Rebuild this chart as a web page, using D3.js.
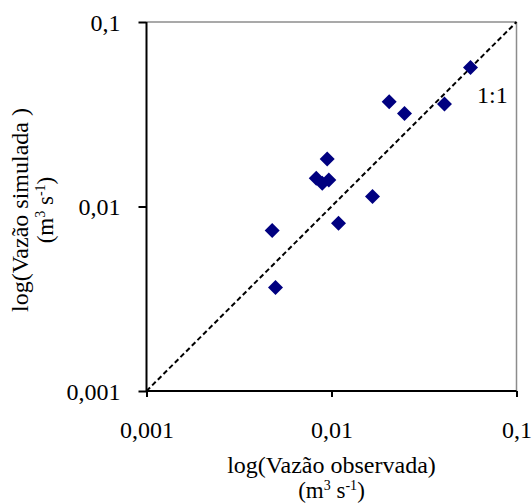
<!DOCTYPE html>
<html>
<head>
<meta charset="utf-8">
<script src="https://cdn.jsdelivr.net/npm/d3@7"></script>
<style>
  html, body { margin: 0; padding: 0; background: #fff; }
  svg { display: block; }
</style>
</head>
<body>
<svg id="chart" width="532" height="504"></svg>
<script>
// ---- data ----
const observed  = [0.0564, 0.0408, 0.0205, 0.0248, 0.00948, 0.00827, 0.00891, 0.00967, 0.01666, 0.01091, 0.00478, 0.00498];
const simulated = [0.0566, 0.0359, 0.0370, 0.0319, 0.0181, 0.01422, 0.01336, 0.01394, 0.01133, 0.00812, 0.00742, 0.00364];
const tickValues = [0.001, 0.01, 0.1];
const tickLabels = ["0,001", "0,01", "0,1"];
const lineOneToOne = [0.001, 0.1];
const lineLabel = "1:1";

// ---- layout ----
const FONT = '"Liberation Serif"';
const svg = d3.select("#chart");
const L = 146.5, R = 516.5, T = 22, B = 391;
const x = d3.scaleLog().domain([0.001, 0.1]).range([L, R]);
const y = d3.scaleLog().domain([0.001, 0.1]).range([B, T]);
const fmt = d => tickLabels[tickValues.indexOf(d)];

// frame: top/right grey
svg.append("line").attr("x1", L).attr("x2", R).attr("y1", T).attr("y2", T)
  .attr("stroke", "#8c8c8c").attr("stroke-width", 1.5);
svg.append("line").attr("x1", R).attr("x2", R).attr("y1", T).attr("y2", B)
  .attr("stroke", "#8c8c8c").attr("stroke-width", 1.5);

// 1:1 line
svg.append("line")
  .attr("x1", x(lineOneToOne[0])).attr("y1", y(lineOneToOne[0]))
  .attr("x2", x(lineOneToOne[1])).attr("y2", y(lineOneToOne[1]))
  .attr("stroke", "#000").attr("stroke-width", 2).attr("stroke-dasharray", "5,3");

// points
const pts = observed.map((o, i) => ({ o, s: simulated[i] }));
svg.append("g").selectAll("path").data(pts).join("path")
  .attr("transform", d => `translate(${x(d.o)},${y(d.s)})`)
  .attr("d", "M0,-7.5L7.5,0L0,7.5L-7.5,0Z")
  .attr("fill", "#000080");

// axes
const xAxis = svg.append("g").attr("transform", `translate(0,${B})`)
  .call(d3.axisBottom(x).tickValues(tickValues).tickFormat(fmt).tickSize(6).tickPadding(0));
const yAxis = svg.append("g").attr("transform", `translate(${L},0)`)
  .call(d3.axisLeft(y).tickValues(tickValues).tickFormat(fmt).tickSize(8).tickPadding(0));
[xAxis, yAxis].forEach(a => {
  a.attr("font-family", null).attr("font-size", null);
  a.select(".domain").remove();
  a.selectAll(".tick line").attr("stroke", "#000").attr("stroke-width", 2);
  a.selectAll("text").style("font-family", FONT).style("font-size", "24px").attr("fill", "#000");
});
xAxis.selectAll("text").attr("dy", null).attr("y", 47).attr("text-anchor", "middle");
yAxis.selectAll("text").attr("dy", null).attr("x", -26).attr("y", 8).attr("text-anchor", "end");

svg.append("line").attr("x1", L).attr("x2", L).attr("y1", T).attr("y2", B)
  .attr("stroke", "#000").attr("stroke-width", 2);
svg.append("line").attr("x1", L).attr("x2", R).attr("y1", B).attr("y2", B)
  .attr("stroke", "#000").attr("stroke-width", 2);

// helper
const txt = (sel, size) => sel.style("font-family", FONT).style("font-size", size + "px").attr("fill", "#000");

// 1:1 label
txt(svg.append("text").attr("x", 477).attr("y", 103), 24).text(lineLabel);

// x title
const cx = (L + R) / 2;
txt(svg.append("text").attr("x", cx).attr("y", 473).attr("text-anchor", "middle"), 24)
  .text("log(Vazão observada)");
function unitLine(t) {
  t.append("tspan").text("(m");
  t.append("tspan").style("font-size", "14px").attr("dy", -8).text("3");
  t.append("tspan").attr("dy", 8).text(" s");
  t.append("tspan").style("font-size", "14px").attr("dy", -8).text("-1");
  t.append("tspan").attr("dy", 8).text(")");
}
unitLine(txt(svg.append("text").attr("x", cx).attr("y", 498).attr("text-anchor", "middle"), 23));

// y title
const cy = 210;
txt(svg.append("text").attr("transform", `translate(28,${cy}) rotate(-90)`).attr("text-anchor", "middle"), 24)
  .text("log(Vazão simulada )");
unitLine(txt(svg.append("text").attr("transform", `translate(53,${cy}) rotate(-90)`).attr("text-anchor", "middle"), 23));
</script>
</body>
</html>
